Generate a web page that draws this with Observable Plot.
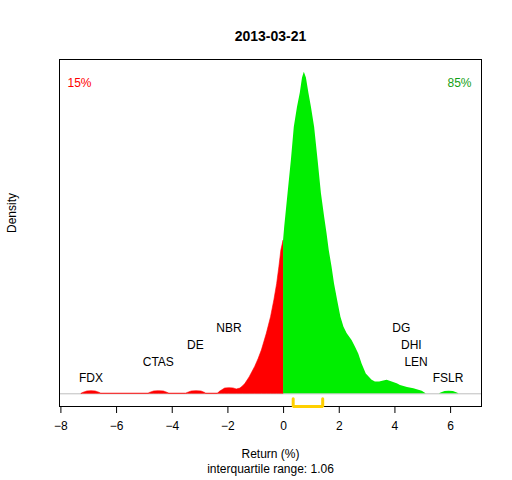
<!DOCTYPE html>
<html>
<head>
<meta charset="utf-8">
<script src="https://cdn.jsdelivr.net/npm/d3@7"></script>
<script src="https://cdn.jsdelivr.net/npm/@observablehq/plot@0.6"></script>
<style>
  body { margin: 0; background: #fff; }
  svg { font-family: "Liberation Sans", Arial, sans-serif; }
</style>
</head>
<body>
<div id="chart"></div>
<script>
const title = "2013-03-21";
// density curve (x = return %, y = density)
const densX = [-7.25,-7.2,-7.05,-6.9,-6.75,-6.6,-6.55,
  -4.85,-4.8,-4.65,-4.48,-4.3,-4.16,-4.1,
  -3.5,-3.44,-3.3,-3.13,-2.95,-2.82,-2.78,
  -2.36,-2.3,-2.2,-2.1,-1.95,-1.8,-1.68,-1.55,-1.45,-1.37,-1.22,-1.02,-0.9,-0.78,-0.6,-0.45,-0.33,-0.23,-0.15,-0.08,0,
  0.04,0.16,0.28,0.385,0.5,0.6,0.68,0.745,0.82,0.91,1.0,1.115,1.24,1.36,1.475,1.56,1.64,1.74,1.83,1.94,2.06,2.17,2.28,2.46,2.58,2.70,2.82,2.97,3.18,3.3,3.45,3.6,3.72,3.85,4.08,4.2,4.45,4.68,4.98,5.12,
  5.6,5.66,5.8,5.95,6.1,6.24,6.3];
const densY = [0,0.0015,0.004,0.0045,0.004,0.0015,0,
  0,0.0015,0.004,0.0045,0.004,0.0015,0,
  0,0.0015,0.004,0.0045,0.004,0.0015,0,
  0,0.003,0.006,0.009,0.0096,0.0092,0.0074,0.009,0.013,0.017,0.028,0.046,0.059,0.074,0.103,0.131,0.160,0.188,0.217,0.245,0.262,
  0.285,0.342,0.399,0.456,0.49,0.514,0.54,0.55,0.54,0.514,0.49,0.456,0.399,0.342,0.302,0.274,0.245,0.217,0.188,0.160,0.131,0.114,0.103,0.091,0.080,0.068,0.051,0.034,0.023,0.020,0.020,0.022,0.023,0.021,0.017,0.014,0.011,0.0086,0.0045,0,
  0,0.0015,0.004,0.0045,0.004,0.0015,0];
// labelled stocks
const stockNames = ["FDX","CTAS","DE","NBR","DG","DHI","LEN","FSLR"];
const stockX = [-6.92,-4.50,-3.17,-1.96,4.23,4.59,4.76,5.91];
const stockLevel = [0.027,0.054,0.084,0.113,0.113,0.084,0.054,0.027];
// fractions
const pctLabels = ["15%","85%"];
// interquartile range
const q1 = 0.345, q3 = 1.405;
const iqrLabel = "interquartile range: 1.06";
const xTicks = [-8,-6,-4,-2,0,2,4,6];

const pts = densX.map((x, i) => ({x, y: densY[i]}));
const neg = pts.filter(d => d.x <= 0);
const pos = pts.filter(d => d.x >= 0);
const stocks = stockNames.map((n, i) => ({name: n, x: stockX[i], y: stockLevel[i]}));
const yDomain = [-0.0217, 0.5717];
const bracket = [
  {x: q1, y: -0.0086}, {x: q1, y: yDomain[0]},
  {x: q3, y: yDomain[0]}, {x: q3, y: -0.0086}
];

const chart = Plot.plot({
  width: 512,
  height: 480,
  marginTop: 59,
  marginBottom: 74,
  marginLeft: 59,
  marginRight: 31,
  style: {fontFamily: "Liberation Sans, Arial, sans-serif", fontSize: "12px", background: "#fff"},
  x: {domain: [-8.05, 7.11]},
  y: {domain: yDomain, axis: null},
  marks: [
    Plot.ruleY([0], {stroke: "#bebebe", strokeWidth: 1}),
    Plot.areaY(neg, {x: "x", y: "y", fill: "#FF0000", stroke: "#FF0000", strokeWidth: 0.6}),
    Plot.areaY(pos, {x: "x", y: "y", fill: "#00EE00"}),
    Plot.frame({stroke: "black", strokeWidth: 1}),
    Plot.line(bracket, {x: "x", y: "y", stroke: "#FFD000", strokeWidth: 3, strokeLinejoin: "miter"}),
    Plot.axisX(xTicks, {tickSize: 7, tickPadding: 8, fontSize: 12, label: null, stroke: "black"}),
    Plot.text(stocks, {x: "x", y: "y", text: "name", fontSize: 12, fill: "black"}),
    Plot.text([pctLabels[0]], {frameAnchor: "top-left", dx: 20, dy: 18.7, textAnchor: "middle", fill: "#FF0000", fontSize: 12}),
    Plot.text([pctLabels[1]], {frameAnchor: "top-right", dx: -22, dy: 18.7, textAnchor: "middle", fill: "#14A014", fontSize: 12}),
    Plot.text([title], {frameAnchor: "top", dy: -28, fontSize: 14, fontWeight: "bold", fill: "black"}),
    Plot.text(["Return (%)"], {frameAnchor: "bottom", dy: 51, fontSize: 12, fill: "black"}),
    Plot.text([iqrLabel], {frameAnchor: "bottom", dy: 66, fontSize: 12, fill: "black"}),
    Plot.text(["Density"], {frameAnchor: "left", dx: -47, rotate: -90, fontSize: 12, fill: "black"})
  ]
});
document.getElementById("chart").appendChild(chart);
</script>
</body>
</html>
